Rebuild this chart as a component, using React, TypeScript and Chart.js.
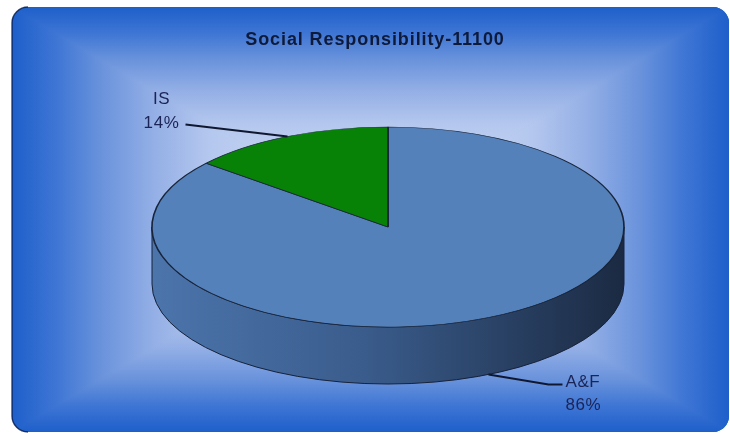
import React, { useEffect, useRef } from 'react';
import { Chart, registerables } from 'chart.js';

Chart.register(...registerables);

const TITLE = 'Social Responsibility-11100';
const categories = ['A&F', 'IS'];
const values = [86, 14];
const sliceColors = ['#5581BA', '#078207'];

const W = 730;
const H = 433;
const PIE = { cx: 388, cy: 227, rx: 236, ry: 100, depth: 57 };
const PANEL = { x0: 12, y0: 7, x1: 729, y1: 432, r: 16 };
const FONT = "'Liberation Sans', Arial, sans-serif";
const TEXT_COLOR = '#1B2456';

function roundRectPath(ctx: CanvasRenderingContext2D, x0: number, y0: number, x1: number, y1: number, r: number) {
  ctx.beginPath();
  ctx.moveTo(x0 + r, y0);
  ctx.lineTo(x1 - r, y0);
  ctx.arcTo(x1, y0, x1, y0 + r, r);
  ctx.lineTo(x1, y1 - r);
  ctx.arcTo(x1, y1, x1 - r, y1, r);
  ctx.lineTo(x0 + r, y1);
  ctx.arcTo(x0, y1, x0, y1 - r, r);
  ctx.lineTo(x0, y0 + r);
  ctx.arcTo(x0, y0, x0 + r, y0, r);
  ctx.closePath();
}

function drawPanel(ctx: CanvasRenderingContext2D) {
  const { x0, y0, x1, y1, r } = PANEL;
  const cx = (x0 + x1) / 2;
  const cy = (y0 + y1) / 2;
  const stops: [number, string][] = [
    [0, '#D8E2F6'],
    [0.45, '#B4C7EE'],
    [0.6, '#95B0E6'],
    [0.75, '#6A93DC'],
    [0.88, '#3D75D4'],
    [1, '#1E5FCA'],
  ];
  ctx.save();
  roundRectPath(ctx, x0, y0, x1, y1, r);
  ctx.fillStyle = '#1E5FCA';
  ctx.fill();
  ctx.clip();
  const tris: [number, number][][] = [
    [[x0, y0], [x1, y0], [cx, y0]],
    [[x1, y0], [x1, y1], [x1, cy]],
    [[x1, y1], [x0, y1], [cx, y1]],
    [[x0, y1], [x0, y0], [x0, cy]],
  ];
  for (const t of tris) {
    const g = ctx.createLinearGradient(cx, cy, t[2][0], t[2][1]);
    for (const [o, c] of stops) g.addColorStop(o, c);
    ctx.beginPath();
    ctx.moveTo(cx, cy);
    ctx.lineTo(t[0][0], t[0][1]);
    ctx.lineTo(t[1][0], t[1][1]);
    ctx.closePath();
    ctx.fillStyle = g;
    ctx.strokeStyle = g;
    ctx.lineWidth = 1;
    ctx.fill();
    ctx.stroke();
  }
  ctx.restore();
  // darker left edge (shadow)
  ctx.save();
  ctx.strokeStyle = 'rgba(8,24,70,0.75)';
  ctx.lineWidth = 1.5;
  ctx.beginPath();
  ctx.moveTo(x0 + r, y0);
  ctx.arcTo(x0, y0, x0, y0 + r, r);
  ctx.lineTo(x0, y1 - r);
  ctx.arcTo(x0, y1, x0 + r, y1, r);
  ctx.stroke();
  ctx.restore();
}

function sidePath(ctx: CanvasRenderingContext2D, a0: number, a1: number) {
  const { cx, cy, rx, ry, depth } = PIE;
  ctx.beginPath();
  ctx.ellipse(cx, cy, rx, ry, 0, a0, a1, false);
  ctx.lineTo(cx + rx * Math.cos(a1), cy + depth + ry * Math.sin(a1));
  ctx.ellipse(cx, cy + depth, rx, ry, 0, a1, a0, true);
  ctx.closePath();
}

const pie3d = {
  id: 'pie3d',
  beforeDraw(chart: any) {
    const ctx: CanvasRenderingContext2D = chart.ctx;
    drawPanel(ctx);
    ctx.save();
    ctx.font = `bold 18px ${FONT}`;
    (ctx as any).letterSpacing = '0.9px';
    ctx.fillStyle = '#0E1A3A';
    ctx.textAlign = 'center';
    ctx.textBaseline = 'alphabetic';
    ctx.fillText(TITLE, 375, 45);
    ctx.restore();
  },
  beforeDatasetsDraw(chart: any) {
    const ctx: CanvasRenderingContext2D = chart.ctx;
    const arcs = chart.getDatasetMeta(0).data;
    const { x, y, outerRadius } = arcs[0].getProps(['x', 'y', 'outerRadius'], true);
    // side walls (front half only)
    ctx.save();
    const g = ctx.createLinearGradient(PIE.cx - PIE.rx, 0, PIE.cx + PIE.rx, 0);
    g.addColorStop(0, '#4C75AC');
    g.addColorStop(0.45, '#3A5C8C');
    g.addColorStop(1, '#1B2A42');
    arcs.forEach((arc: any) => {
      const { startAngle, endAngle } = arc.getProps(['startAngle', 'endAngle'], true);
      for (const off of [-2 * Math.PI, 0, 2 * Math.PI]) {
        const lo = Math.max(startAngle, off);
        const hi = Math.min(endAngle, off + Math.PI);
        if (hi > lo) {
          sidePath(ctx, lo - off, hi - off);
          ctx.fillStyle = g;
          ctx.fill();
          ctx.strokeStyle = '#16223A';
          ctx.lineWidth = 1;
          ctx.stroke();
        }
      }
    });
    ctx.restore();
    // squash the circular pie into the top ellipse
    ctx.save();
    ctx.translate(PIE.cx, PIE.cy);
    ctx.scale(PIE.rx / outerRadius, PIE.ry / outerRadius);
    ctx.translate(-x, -y);
  },
  afterDatasetsDraw(chart: any) {
    const ctx: CanvasRenderingContext2D = chart.ctx;
    ctx.restore();
    const arcs = chart.getDatasetMeta(0).data;
    const total = values.reduce((a, b) => a + b, 0);
    ctx.save();
    ctx.font = `17px ${FONT}`;
    (ctx as any).letterSpacing = '0.6px';
    ctx.fillStyle = TEXT_COLOR;
    ctx.strokeStyle = '#101830';
    ctx.lineWidth = 2;
    ctx.textBaseline = 'middle';
    arcs.forEach((arc: any, i: number) => {
      const { startAngle, endAngle } = arc.getProps(['startAngle', 'endAngle'], true);
      const mid = (startAngle + endAngle) / 2;
      const s = Math.sin(mid);
      const c = Math.cos(mid);
      const px = PIE.cx + PIE.rx * c;
      const py = PIE.cy + PIE.ry * s + (s > 0 ? PIE.depth : 0);
      const pct = Math.round((values[i] / total) * 100) + '%';
      ctx.beginPath();
      ctx.moveTo(px, py);
      if (c < 0) {
        const ex = px - 102;
        const ey = py - 12;
        ctx.lineTo(ex, ey);
        ctx.stroke();
        ctx.textAlign = 'center';
        ctx.fillText(categories[i], ex - 24, ey - 25);
        ctx.fillText(pct, ex - 24, ey - 1);
      } else {
        const ex = px + 60;
        const ey = py + 10;
        ctx.lineTo(ex, ey);
        ctx.lineTo(ex + 14, ey);
        ctx.stroke();
        ctx.textAlign = 'left';
        ctx.fillText(categories[i], ex + 17, ey - 2);
        ctx.fillText(pct, ex + 17, ey + 21);
      }
    });
    ctx.restore();
  },
};

export default function App() {
  const ref = useRef<HTMLCanvasElement>(null);
  useEffect(() => {
    const chart = new Chart(ref.current as HTMLCanvasElement, {
      type: 'pie',
      data: {
        labels: categories,
        datasets: [
          {
            data: values,
            backgroundColor: sliceColors,
            borderColor: '#18253A',
            borderWidth: 0.7,
            clip: false,
          } as any,
        ],
      },
      options: {
        responsive: false,
        animation: false,
        events: [],
        layout: { padding: { left: 288, right: 242, top: 127, bottom: 106 } },
        plugins: {
          legend: { display: false },
          tooltip: { enabled: false },
          title: { display: false },
        },
      },
      plugins: [pie3d],
    });
    return () => chart.destroy();
  }, []);
  return (
    <div style={{ position: 'absolute', left: 0, top: 0, width: W, height: H, background: '#ffffff' }}>
      <canvas ref={ref} width={W} height={H} style={{ display: 'block' }} />
    </div>
  );
}
